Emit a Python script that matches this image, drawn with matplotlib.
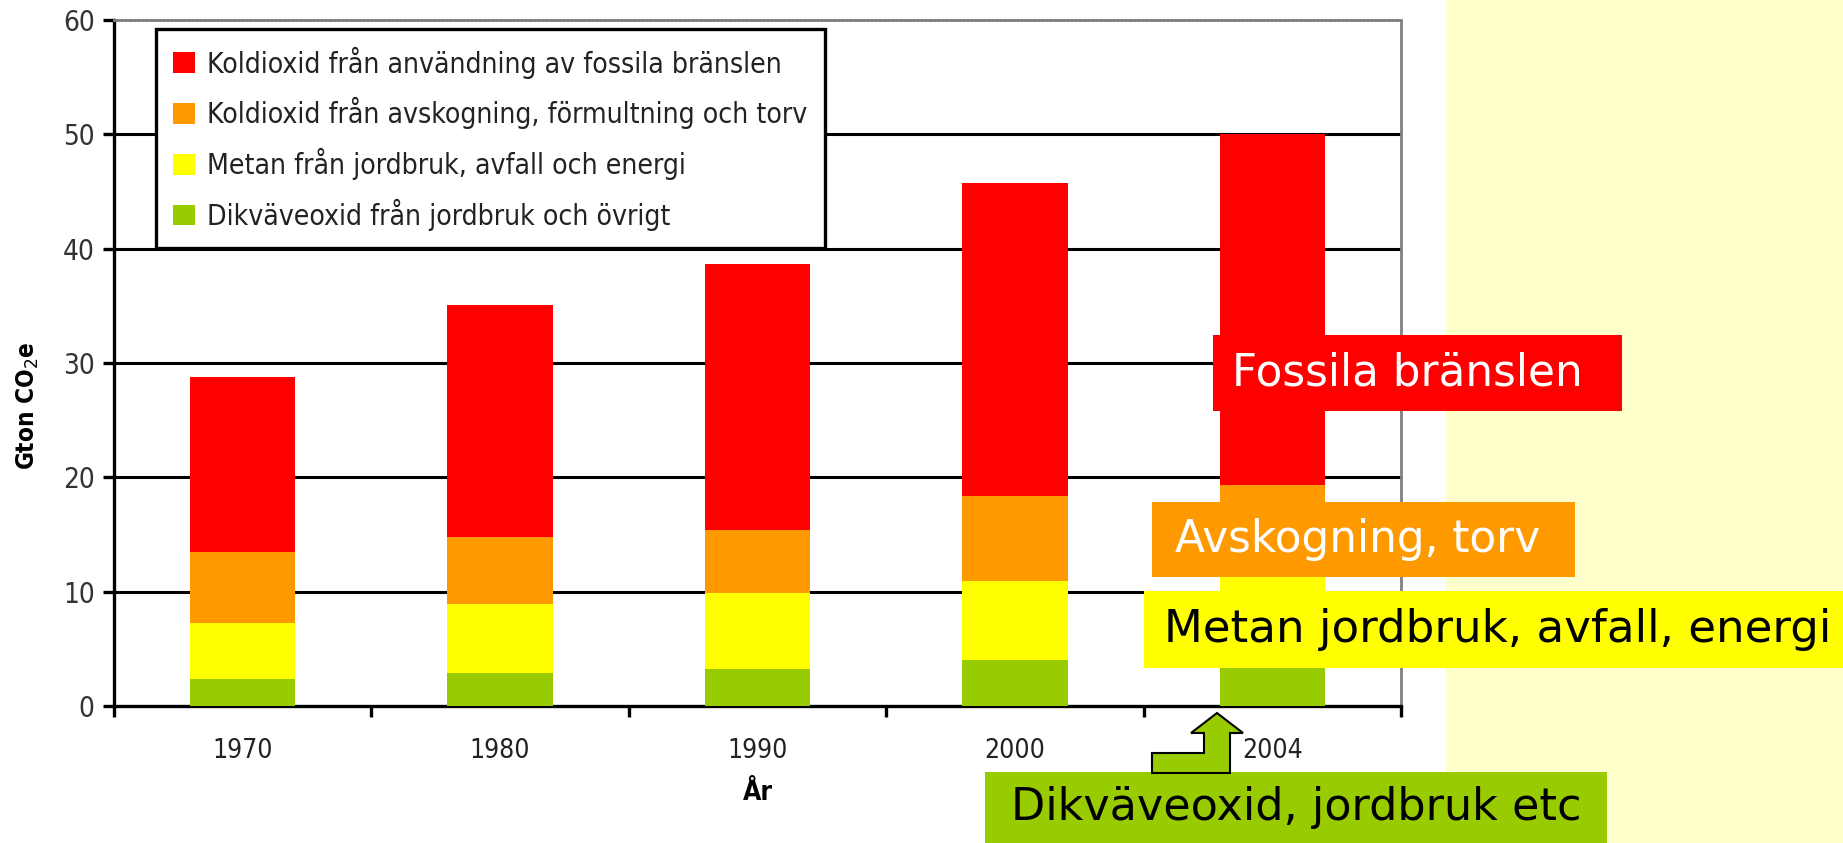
import matplotlib
matplotlib.use('Agg')
import matplotlib.pyplot as plt
import numpy as np
from matplotlib.patches import Rectangle, Polygon, Patch

# data (Gton CO2e per layer)
years = ['1970', '1980', '1990', '2000', '2004']
dikvaveoxid = [2.4, 2.9, 3.2, 4.0, 4.1]
metan = [4.9, 6.0, 6.7, 6.9, 7.3]
avskogning = [6.2, 5.9, 5.5, 7.5, 7.9]
fossila = [15.3, 20.3, 23.3, 27.3, 30.7]

labels = ['Dikväveoxid från jordbruk och övrigt',
          'Metan från jordbruk, avfall och energi',
          'Koldioxid från avskogning, förmultning och torv',
          'Koldioxid från användning av fossila bränslen']
colors = ['#99cc00', '#ffff00', '#ff9900', '#ff0000']

W, H = 1843, 843
cond = dict(family='DejaVu Sans', stretch='condensed')

fig = plt.figure(figsize=(W / 100, H / 100), dpi=100)
fig.patch.set_facecolor('white')
# yellow side panel
fig.patches.append(Rectangle((1446 / W, 0), 1 - 1446 / W, 1, transform=fig.transFigure,
                             facecolor='#ffffcc', edgecolor='none', zorder=0))

ax = fig.add_axes([114 / W, 1 - 706 / H, (1401 - 114) / W, (706 - 20) / H])
x = np.arange(len(years))
bottom = np.zeros(len(years))
for vals, c in zip([dikvaveoxid, metan, avskogning, fossila], colors):
    ax.bar(x, vals, bottom=bottom, width=0.41, color=c, zorder=3)
    bottom += np.array(vals)

ax.set_xlim(-0.5, 4.5)
ax.set_ylim(0, 60)
ax.set_yticks(range(0, 61, 10))
for yv in range(10, 60, 10):
    ax.axhline(yv, color='black', lw=2.2, zorder=2)

ax.spines['left'].set_linewidth(2.4)
ax.spines['bottom'].set_linewidth(2.4)
ax.spines['top'].set_color('#808080')
ax.spines['top'].set_linestyle((0, (1, 0.5)))
ax.spines['top'].set_linewidth(2)
ax.spines['right'].set_color('#808080')
ax.spines['right'].set_linewidth(2)

ax.set_xticks(x)
ax.set_xticklabels(years, fontsize=19, color='#222222', **cond)
ax.set_xticks(np.arange(-0.5, 5, 1), minor=True)
ax.tick_params(axis='x', which='major', length=0, pad=23)
ax.tick_params(axis='x', which='minor', length=8, width=2.4, direction='out')
ax.tick_params(axis='y', length=8, width=2.4, direction='out', pad=6, labelsize=20,
               labelcolor='#333333')
for t in ax.get_yticklabels():
    t.set_family('DejaVu Sans')
    t.set_stretch('condensed')

ax.set_xlabel('År', fontsize=19, fontweight='bold', labelpad=11.5, **cond)
ax.set_ylabel('Gton CO$_2$e', fontsize=17.5, fontweight='bold', **cond)
ax.yaxis.set_label_coords(-0.057, 0.438)

handles = [Patch(facecolor=c, edgecolor='none') for c in colors][::-1]
leg = ax.legend(handles, labels[::-1], loc='upper left', bbox_to_anchor=(0.0326, 0.987),
                borderaxespad=0, fancybox=False, framealpha=1, edgecolor='black',
                prop=dict(size=20.3, **cond), handlelength=0.75, handleheight=0.75,
                labelspacing=0.66, borderpad=0.62, handletextpad=0.45)
leg.get_frame().set_linewidth(2.4)
leg.set_zorder(5)
for t in leg.get_texts():
    t.set_color('#222222')


def label_box(x0, y0, x1, y1, text, fc, tc, size, tx):
    fig.patches.append(Rectangle((x0 / W, 1 - y1 / H), (x1 - x0) / W, (y1 - y0) / H,
                                 transform=fig.transFigure, facecolor=fc,
                                 edgecolor='none', zorder=6))
    fig.text(tx / W, 1 - (y0 + y1) / 2 / H, text, color=tc, fontsize=size,
             ha='left', va='center', zorder=7)


label_box(1213, 335, 1622, 411, 'Fossila bränslen', '#ff0000', 'white', 31.5, 1232)
label_box(1152, 502, 1575, 577, 'Avskogning, torv', '#ff9900', 'white', 31.5, 1175)
label_box(1144, 591, 1843, 668, 'Metan jordbruk, avfall, energi', '#ffff00', 'black', 32.5, 1164)
label_box(985, 772, 1607, 843, 'Dikväveoxid, jordbruk etc', '#99cc00', 'black', 32, 1011)

# bent arrow pointing at the 2004 green layer
arrow = [(1217, 713), (1243, 733), (1230, 733), (1230, 773), (1152, 773),
         (1152, 753), (1204, 753), (1204, 733), (1191, 733)]
fig.patches.append(Polygon([(px / W, 1 - py / H) for px, py in arrow], closed=True,
                           transform=fig.transFigure, facecolor='#99cc00',
                           edgecolor='black', lw=1.5, zorder=6))

fig.savefig('out.png', dpi=100)
